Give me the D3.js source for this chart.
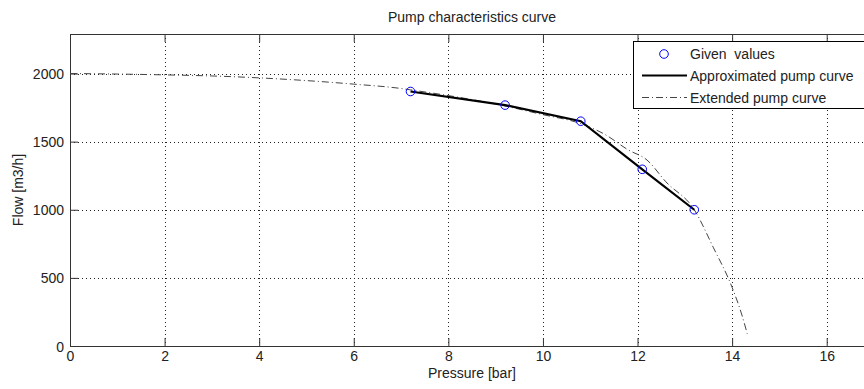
<!DOCTYPE html>
<html>
<head>
<meta charset="utf-8">
<script src="https://cdn.jsdelivr.net/npm/d3@7"></script>
<style>
  body { margin: 0; background: #fff; }
  text { font-family: "Liberation Sans", Arial, sans-serif; fill: #222; }
</style>
</head>
<body>
<div id="draw"></div>
<script>
// given measurement points
var givenPressure = [7.2, 9.2, 10.8, 12.1, 13.2];
var givenFlow = [1868, 1768, 1650, 1297, 1000];

// extended (fitted) pump curve
var extPressure = [0, 1, 2, 3, 4, 5, 6, 7, 7.2, 8, 9, 10, 10.8, 11.3, 11.8, 12.2, 12.6, 13.2, 13.6, 14.0, 14.2, 14.32];
var extFlow = [2000, 1996, 1990, 1982, 1968, 1948, 1922, 1890, 1880, 1838, 1776, 1698, 1632, 1555, 1440, 1365, 1205, 1000, 725, 430, 235, 90];

var xTicks = [0, 2, 4, 6, 8, 10, 12, 14, 16];
var yTicks = [0, 500, 1000, 1500, 2000];

var W = 864, H = 389;
// plot box edges (note: "top" is reserved on window, so use other names)
var pLeft = 70, pRight = 874, pTop = 34, pBottom = 346;

var x = d3.scaleLinear().domain([0, 17]).range([pLeft, pRight]);
var y = d3.scaleLinear().domain([0, 2290]).range([pBottom, pTop]);

var svg = d3.select('#draw').append('svg')
    .attr('width', W).attr('height', H);

// grid
var grid = svg.append('g');
grid.selectAll('line.gx')
    .data(xTicks.filter(function(d){ return d > 0; }))
    .enter().append('line')
    .attr('x1', function(d){ return Math.round(x(d)) + 0.5; })
    .attr('x2', function(d){ return Math.round(x(d)) + 0.5; })
    .attr('y1', pTop).attr('y2', pBottom)
    .attr('stroke', '#222').attr('stroke-width', 1)
    .attr('stroke-dasharray', '1,3');
grid.selectAll('line.gy')
    .data(yTicks.filter(function(d){ return d > 0; }))
    .enter().append('line')
    .attr('y1', function(d){ return Math.round(y(d)) + 0.5; })
    .attr('y2', function(d){ return Math.round(y(d)) + 0.5; })
    .attr('x1', pLeft).attr('x2', pRight)
    .attr('stroke', '#222').attr('stroke-width', 1)
    .attr('stroke-dasharray', '1,3');

// axes with inward ticks
var xAxis = svg.append('g').attr('transform', 'translate(0,' + pBottom + ')')
    .call(d3.axisBottom(x).tickValues(xTicks).tickSize(-8).tickPadding(5).tickSizeOuter(0));
var xTop = svg.append('g').attr('transform', 'translate(0,' + pTop + ')')
    .call(d3.axisTop(x).tickValues(xTicks).tickSize(-8).tickFormat('').tickSizeOuter(0));
var yAxis = svg.append('g').attr('transform', 'translate(' + pLeft + ',0)')
    .call(d3.axisLeft(y).tickValues(yTicks).tickFormat(d3.format('d'))
        .tickSize(-8).tickPadding(6).tickSizeOuter(0));

[xAxis, xTop, yAxis].forEach(function(g){
    g.selectAll('path').attr('stroke', '#333');
    g.selectAll('line').attr('stroke', '#333');
    g.selectAll('text').attr('font-size', 14).attr('fill', '#222')
        .style('font-family', '"Liberation Sans", Arial, sans-serif');
});
yAxis.selectAll('text').attr('dy', '0.36em');

// extended curve (dash-dot)
var line = d3.line()
    .x(function(d){ return x(d[0]); })
    .y(function(d){ return y(d[1]); })
    .curve(d3.curveMonotoneX);
var extData = extPressure.map(function(p, i){ return [p, extFlow[i]]; });
svg.append('path').datum(extData)
    .attr('d', line)
    .attr('fill', 'none').attr('stroke', '#444').attr('stroke-width', 1)
    .attr('stroke-dasharray', '7,3,1,3');

// approximated curve (solid)
var givenData = givenPressure.map(function(p, i){ return [p, givenFlow[i]]; });
svg.append('path').datum(givenData)
    .attr('d', d3.line().x(function(d){ return x(d[0]); }).y(function(d){ return y(d[1]); }))
    .attr('fill', 'none').attr('stroke', '#000').attr('stroke-width', 2.2);

// given points
svg.selectAll('circle.pt').data(givenData).enter().append('circle')
    .attr('cx', function(d){ return x(d[0]); })
    .attr('cy', function(d){ return y(d[1]); })
    .attr('r', 4.3)
    .attr('fill', 'none').attr('stroke', '#0000ff').attr('stroke-width', 1);

// titles
svg.append('text').attr('x', (pLeft + pRight) / 2).attr('y', 22)
    .attr('text-anchor', 'middle').attr('font-size', 14)
    .text('Pump characteristics curve');
svg.append('text').attr('x', (pLeft + pRight) / 2).attr('y', 378)
    .attr('text-anchor', 'middle').attr('font-size', 14)
    .text('Pressure [bar]');
svg.append('text').attr('transform', 'translate(23,190) rotate(-90)')
    .attr('text-anchor', 'middle').attr('font-size', 14)
    .text('Flow [m3/h]');

// legend
var legend = svg.append('g');
legend.append('rect').attr('x', 633.5).attr('y', 41.5)
    .attr('width', 240).attr('height', 67)
    .attr('fill', '#fff').attr('stroke', '#000').attr('stroke-width', 1);
legend.append('circle').attr('cx', 664).attr('cy', 54).attr('r', 4.3)
    .attr('fill', 'none').attr('stroke', '#0000ff').attr('stroke-width', 1);
legend.append('line').attr('x1', 642).attr('x2', 687).attr('y1', 75.5).attr('y2', 75.5)
    .attr('stroke', '#000').attr('stroke-width', 2.2);
legend.append('line').attr('x1', 642).attr('x2', 687).attr('y1', 97.5).attr('y2', 97.5)
    .attr('stroke', '#444').attr('stroke-width', 1).attr('stroke-dasharray', '7,3,1,3');
var labels = ['Given  values', 'Approximated pump curve', 'Extended pump curve'];
legend.selectAll('text.lg').data(labels).enter().append('text')
    .attr('x', 690)
    .attr('y', function(d, i){ return 59 + i * 21.8; })
    .attr('font-size', 14)
    .style('white-space', 'pre')
    .text(function(d){ return d; });
</script>
</body>
</html>
